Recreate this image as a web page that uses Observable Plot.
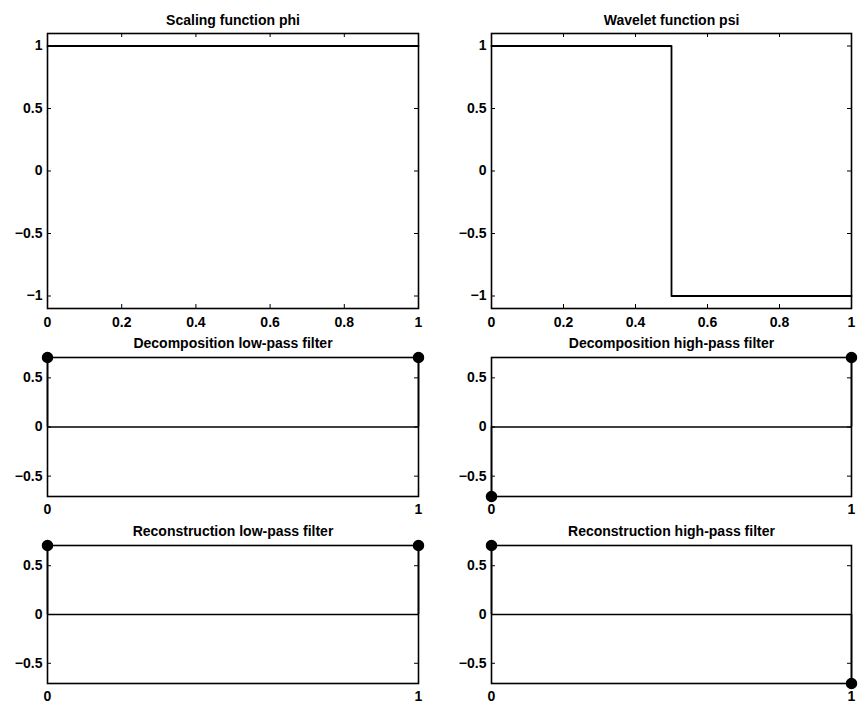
<!DOCTYPE html>
<html>
<head>
<meta charset="utf-8">
<script src="https://cdn.jsdelivr.net/npm/d3@7"></script>
<script src="https://cdn.jsdelivr.net/npm/@observablehq/plot@0.6"></script>
<style>
  html, body { margin: 0; padding: 0; background: white; overflow: hidden; }
  #wrap { position: relative; width: 858px; height: 703px; overflow: hidden; }
  #wrap > div { position: absolute; }
  #wrap svg { background: transparent !important; overflow: visible; max-width: none !important; }
</style>
</head>
<body>
<div id="wrap"></div>
<script>
// ---- data ----
const titles = [
  "Scaling function phi", "Wavelet function psi",
  "Decomposition low-pass filter", "Decomposition high-pass filter",
  "Reconstruction low-pass filter", "Reconstruction high-pass filter"
];
const phiX = [0, 1];
const phiY = [1, 1];
const psiX = [0, 0.5, 0.5, 1];
const psiY = [1, 1, -1, -1];
const filterX = [0, 1];
const loD = [0.7071, 0.7071];
const hiD = [-0.7071, 0.7071];
const loR = [0.7071, 0.7071];
const hiR = [0.7071, -0.7071];
const funcXTicks = [0, 0.2, 0.4, 0.6, 0.8, 1];
const funcYTicks = [-1, -0.5, 0, 0.5, 1];
const filtXTicks = [0, 1];
const filtYTicks = [-0.5, 0, 0.5];
const funcYDomain = [-1.1, 1.1];
const filtYDomain = [-0.7071, 0.7071];

// ---- layout ----
const cols = [
  {left: 0, width: 430, ml: 47, mr: 12},
  {left: 430, width: 428, ml: 61, mr: 7}
];
const rows = [
  {top: 0, height: 335, mt: 33, mb: 27, titleDy: -18, tickPad: 9},
  {top: 335, height: 185, mt: 22, mb: 24, titleDy: -19, tickPad: 8},
  {top: 520, height: 183, mt: 25, mb: 20, titleDy: -19, tickPad: 8}
];
const FONT = "'Liberation Sans', Arial, Helvetica, sans-serif";
const FS = 14;
const fmt = d => (d < 0 ? "\u2212" + Math.abs(d) : String(d));

function panel(ri, ci, marks, xTicks, yTicks, yDomain) {
  const c = cols[ci], r = rows[ri];
  const W = c.width - c.ml - c.mr;
  const H = r.height - r.mt - r.mb;
  const T = 4;
  const p = Plot.plot({
    width: c.width, height: r.height,
    marginLeft: c.ml, marginRight: c.mr, marginTop: r.mt, marginBottom: r.mb,
    style: {fontFamily: FONT, fontSize: FS + "px", fontWeight: "bold", color: "black", background: "transparent", overflow: "visible", maxWidth: "none"},
    x: {domain: [0, 1], nice: false, label: null},
    y: {domain: yDomain, nice: false, label: null},
    marks: [
      Plot.axisX(xTicks, {tickSize: 0, tickPadding: r.tickPad, tickFormat: fmt, label: null, fontSize: FS, fontWeight: "bold", fill: "black"}),
      Plot.axisY(yTicks, {tickSize: 0, tickPadding: 5, tickFormat: fmt, label: null, fontSize: FS, fontWeight: "bold", fill: "black"}),
      Plot.ruleY(yTicks, {y: d => d, insetRight: W - T, stroke: "black", strokeWidth: 1}),
      Plot.ruleY(yTicks, {y: d => d, insetLeft: W - T, stroke: "black", strokeWidth: 1}),
      Plot.ruleX(xTicks, {x: d => d, insetTop: H - T, stroke: "black", strokeWidth: 1}),
      Plot.ruleX(xTicks, {x: d => d, insetBottom: H - T, stroke: "black", strokeWidth: 1}),
      ...marks,
      Plot.frame({stroke: "black", strokeWidth: 1.6}),
      Plot.text([titles[ri * 2 + ci]], {frameAnchor: "top", dy: r.titleDy, text: d => d, fontSize: FS, fontWeight: "bold", fill: "black"})
    ]
  });
  const d = document.createElement("div");
  d.style.left = c.left + "px";
  d.style.top = r.top + "px";
  d.style.width = c.width + "px";
  d.style.height = r.height + "px";
  d.appendChild(p);
  document.getElementById("wrap").appendChild(d);
}

function funcMarks(xs, ys) {
  const data = xs.map((x, i) => ({x, y: ys[i]}));
  return [Plot.line(data, {x: "x", y: "y", stroke: "black", strokeWidth: 1.8})];
}
function stemMarks(vals) {
  const data = filterX.map((x, i) => ({x, y: vals[i]}));
  return [
    Plot.ruleY([0], {stroke: "black", strokeWidth: 1.6}),
    Plot.ruleX(data, {x: "x", y1: 0, y2: "y", stroke: "black", strokeWidth: 1.6}),
    Plot.dot(data, {x: "x", y: "y", r: 5, fill: "black", stroke: "black"})
  ];
}

panel(0, 0, funcMarks(phiX, phiY), funcXTicks, funcYTicks, funcYDomain);
panel(0, 1, funcMarks(psiX, psiY), funcXTicks, funcYTicks, funcYDomain);
panel(1, 0, stemMarks(loD), filtXTicks, filtYTicks, filtYDomain);
panel(1, 1, stemMarks(hiD), filtXTicks, filtYTicks, filtYDomain);
panel(2, 0, stemMarks(loR), filtXTicks, filtYTicks, filtYDomain);
panel(2, 1, stemMarks(hiR), filtXTicks, filtYTicks, filtYDomain);
</script>
</body>
</html>
